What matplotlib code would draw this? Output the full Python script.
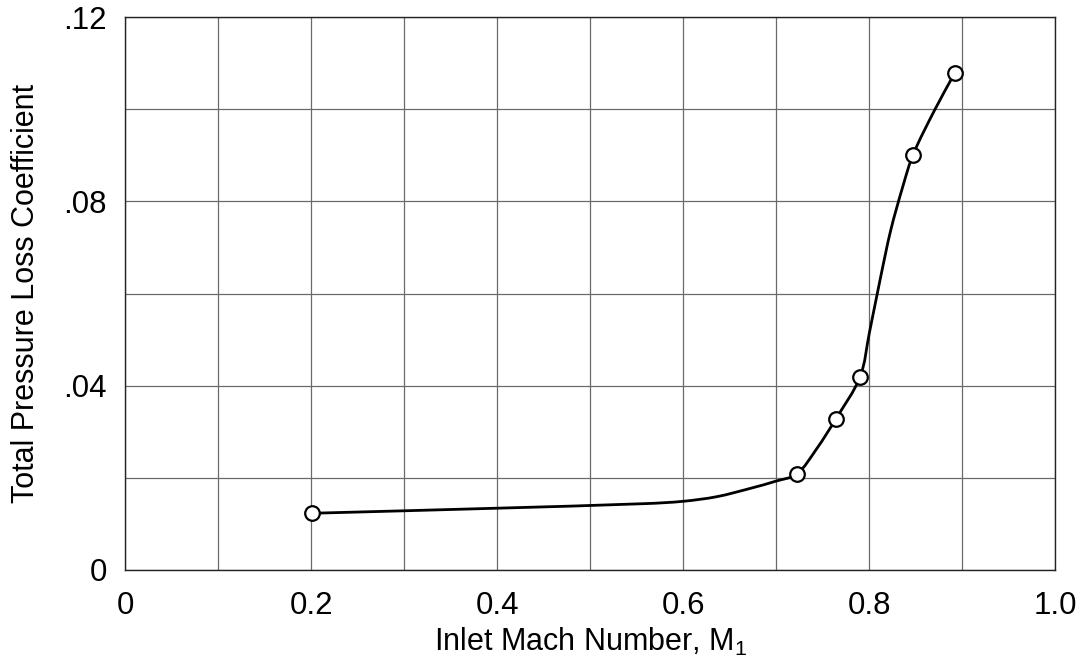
import matplotlib
matplotlib.use('Agg')
import numpy as np
from matplotlib import pyplot
from matplotlib.path import Path
from matplotlib.patches import PathPatch

# Measured loss coefficients
MACH = [0.201, 0.722, 0.764, 0.790, 0.847, 0.892]
LOSS = [0.0123, 0.0208, 0.0328, 0.0419, 0.0902, 0.1080]

# Faired curve through the measurements
CURVE_MACH = [0.201, 0.40, 0.56, 0.60, 0.636, 0.672, 0.70, 0.722, 0.743,
              0.764, 0.790, 0.800, 0.812, 0.823, 0.836, 0.847, 0.870, 0.892]
CURVE_LOSS = [0.0123, 0.0134, 0.0144, 0.0149, 0.0159, 0.0177, 0.0193,
              0.0208, 0.0262, 0.0328, 0.0419, 0.0515, 0.0635, 0.0738,
              0.0833, 0.0902, 0.0998, 0.1080]

X_TICKS = [0, 0.2, 0.4, 0.6, 0.8, 1.0]
X_LABELS = ['0', '0.2', '0.4', '0.6', '0.8', '1.0']
Y_TICKS = [0, 0.04, 0.08, 0.12]
Y_LABELS = ['0', '.04', '.08', '.12']


def _smooth_path(xs, ys, xscale=930.0, yscale=4608.0):
    '''Bezier path passing through each point (chordal Catmull-Rom).'''
    pts = np.column_stack([xs, ys])
    scale = np.array([xscale, yscale])
    seg = np.linalg.norm(np.diff(pts * scale, axis=0), axis=1)
    t = np.concatenate([[0.0], np.cumsum(seg)])
    n = len(pts)
    tang = np.zeros_like(pts)
    for i in range(n):
        lo, hi = max(i - 1, 0), min(i + 1, n - 1)
        tang[i] = (pts[hi] - pts[lo]) / (t[hi] - t[lo])
    verts = [pts[0]]
    codes = [Path.MOVETO]
    for i in range(n - 1):
        dt = t[i + 1] - t[i]
        verts += [pts[i] + tang[i] * dt / 3,
                  pts[i + 1] - tang[i + 1] * dt / 3,
                  pts[i + 1]]
        codes += [Path.CURVE4] * 3
    return Path(verts, codes)


def _plot():
    '''Plot loss coefficient against inlet Mach number.'''
    pyplot.rcParams['font.family'] = ['Liberation Sans', 'DejaVu Sans']
    pyplot.rcParams['mathtext.fontset'] = 'custom'
    pyplot.rcParams['mathtext.rm'] = 'Liberation Sans'
    pyplot.rcParams['mathtext.it'] = 'Liberation Sans'

    fig = pyplot.figure(figsize=(10.87, 6.65), dpi=100)
    ax = fig.add_axes([0.115, 0.143, 0.856, 0.831])

    curve = PathPatch(_smooth_path(CURVE_MACH, CURVE_LOSS), facecolor='none',
                      edgecolor='black', linewidth=2.0, zorder=3)
    ax.add_patch(curve)
    ax.plot(MACH, LOSS, linestyle='none', marker='o', markersize=10.5,
            markerfacecolor='white', markeredgecolor='black',
            markeredgewidth=1.6, zorder=4)

    ax.set_xlim(0, 1.0)
    ax.set_ylim(0, 0.12)
    ax.set_xticks([i / 10 for i in range(11)], minor=True)
    ax.set_yticks([i * 0.02 for i in range(7)], minor=True)
    ax.set_xticks(X_TICKS)
    ax.set_xticklabels(X_LABELS)
    ax.set_yticks(Y_TICKS)
    ax.set_yticklabels(Y_LABELS)
    ax.grid(True, which='both', color='#6a6a6a', linewidth=0.9)
    ax.tick_params(which='both', length=0, labelsize=22.5)
    ax.tick_params(axis='x', pad=15)
    ax.tick_params(axis='y', pad=13)

    for spine in ax.spines.values():
        spine.set_linewidth(1.0)
        spine.set_color('#222222')

    ax.set_xlabel('Inlet Mach Number, M$_1$', fontsize=22, labelpad=4)
    ax.set_ylabel('Total Pressure Loss Coefficient', fontsize=22,
                  labelpad=16)

    fig.savefig('out.png', dpi=100)


def main():
    '''main method.'''
    _plot()


if __name__ == '__main__':
    main()
